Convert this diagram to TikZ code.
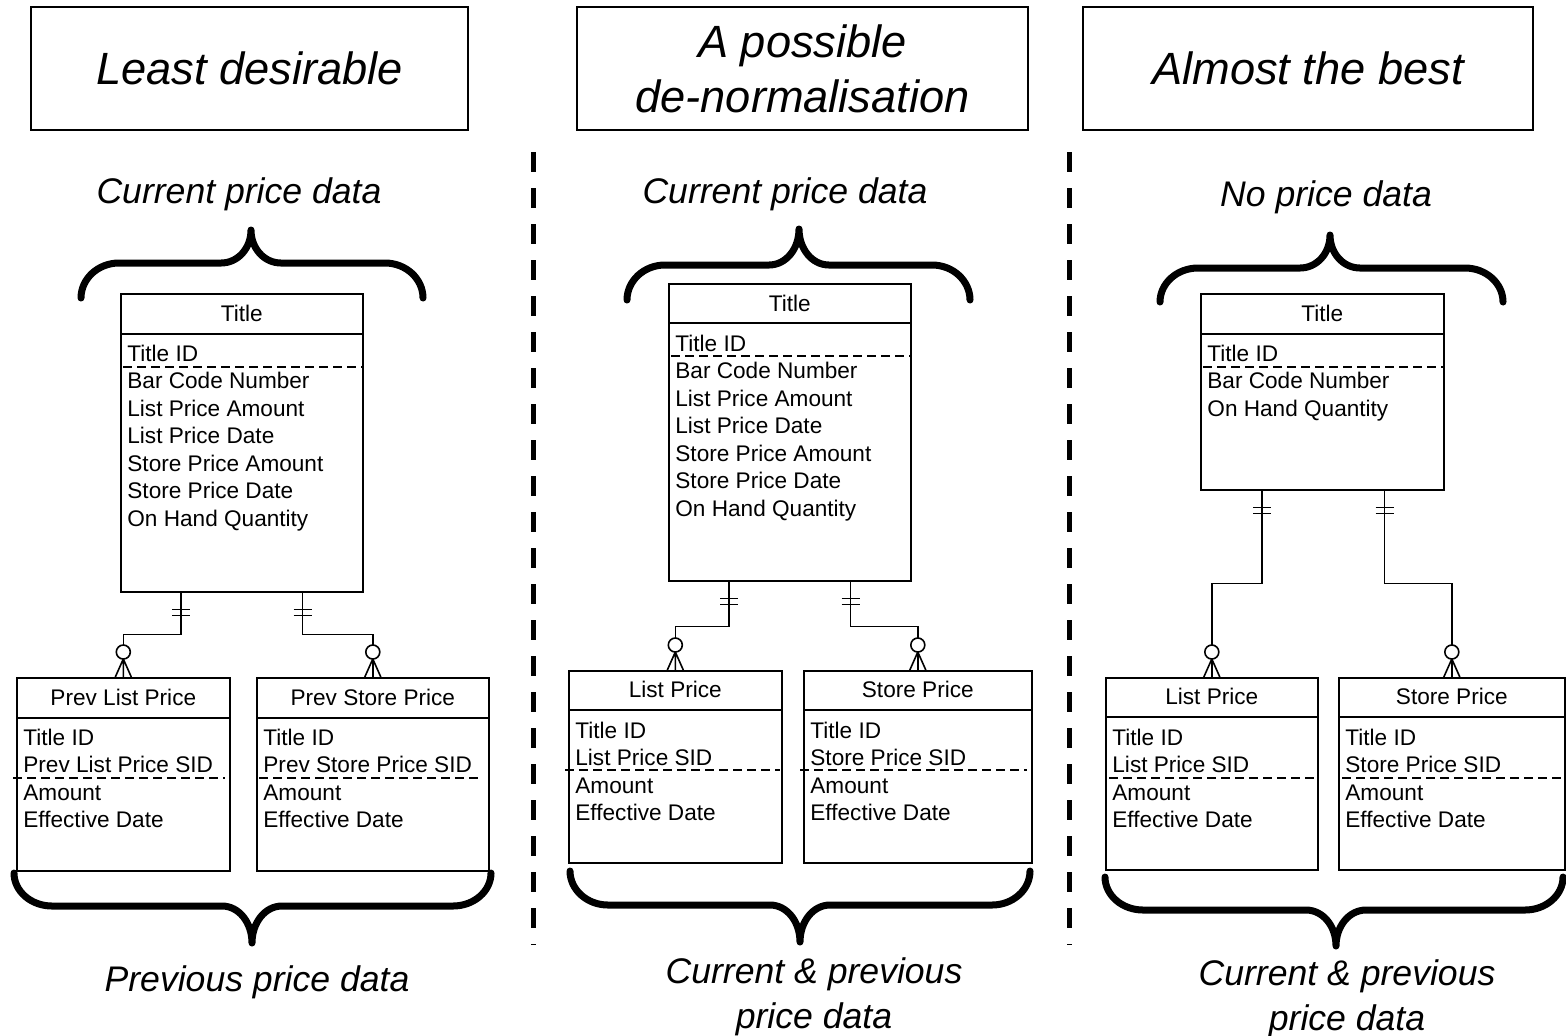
\documentclass[tikz,border=0pt]{standalone}
\usepackage{fontspec}
\setmainfont{Liberation Sans}
\usetikzlibrary{calc}

\tikzset{
  hdrbox/.style={draw, line width=0.7pt, minimum width=#1, minimum height=61.5pt,
    inner sep=0pt, align=center, font=\fontsize{22.6}{27.5}\selectfont\itshape},
  note/.style={inner sep=0pt, align=center, font=\fontsize{17.8}{22.5}\selectfont\itshape},
  ent/.style={draw, line width=0.8pt, anchor=north west, inner sep=0pt},
  entline/.style={line width=0.8pt},
  keyline/.style={line width=0.6pt, dash pattern=on 4.5pt off 2.5pt},
  enthead/.style={anchor=base, inner sep=0pt, font=\fontsize{11.3}{13.75}\selectfont},
  attr/.style={anchor=base west, inner sep=0pt, font=\fontsize{11.3}{13.75}\selectfont},
  rel/.style={line width=0.8pt},
  brace/.style={line width=3.5pt, line cap=round, line join=round},
  colsep/.style={line width=2.5pt, dash pattern=on 10pt off 8pt},
}

\begin{document}
\begin{tikzpicture}[x=0.5pt, y=-0.5pt]
\useasboundingbox (0,0) rectangle (1566,1035);

%% headings
\node[hdrbox=218.5pt] (least)  at (249.5,68.5) {Least desirable};
\node[hdrbox=225.5pt] (denorm) at (802.5,68.5) {A possible\\de-normalisation};
\node[hdrbox=225pt]   (best)   at (1308,68.5)  {Almost the best};

\node[note, anchor=base] (cur1)   at (239,203)  {Current price data};
\node[note, anchor=base] (cur2)   at (785,203)  {Current price data};
\node[note, anchor=base] (noprice) at (1326,206) {No price data};

\node[note, anchor=base]  (prev1) at (257,991) {Previous price data};
\node[note, anchor=north] (both2) at (814,957) {Current \& previous\\price data};
\node[note, anchor=north] (both3) at (1347,959) {Current \& previous\\price data};

%% column separators
\draw[colsep] (533,152) -- (533,945);
\draw[colsep] (1069,152) -- (1069,945);

%% Column 1
\node[ent, minimum width=121pt, minimum height=149pt] (title1) at (120,293) {};
\draw[entline] ($(title1.north west)+(0,41)$) -- ($(title1.north east)+(0,41)$);
\node[enthead] (title1h) at ($(title1.north)+(0,28)$) {Title};
\foreach \a [count=\i] in {Title ID,Bar Code Number,List Price Amount,List Price Date,Store Price Amount,Store Price Date,On Hand Quantity}
  \node[attr] (title1r\i) at ($(title1.north west)+(7,40.5+27.5*\i)$) {\a};
\draw[keyline] ($(title1.north west)+(3,74)$) -- ($(title1.north east)+(0,74)$);

\node[ent, minimum width=106.5pt, minimum height=96.5pt] (plp) at (16,677) {};
\draw[entline] ($(plp.north west)+(0,41)$) -- ($(plp.north east)+(0,41)$);
\node[enthead] (plph) at ($(plp.north)+(0,28)$) {Prev List Price};
\foreach \a [count=\i] in {Title ID,Prev List Price SID,Amount,Effective Date}
  \node[attr] (plpr\i) at ($(plp.north west)+(7,40.5+27.5*\i)$) {\a};
\draw[keyline] ($(plp.north west)+(-3,101)$) -- ($(plp.north east)+(-6,101)$);

\node[ent, minimum width=116pt, minimum height=96.5pt] (psp) at (256,677) {};
\draw[entline] ($(psp.north west)+(0,41)$) -- ($(psp.north east)+(0,41)$);
\node[enthead] (psph) at ($(psp.north)+(0,28)$) {Prev Store Price};
\foreach \a [count=\i] in {Title ID,Prev Store Price SID,Amount,Effective Date}
  \node[attr] (pspr\i) at ($(psp.north west)+(7,40.5+27.5*\i)$) {\a};
\draw[keyline] ($(psp.north west)+(3,101)$) -- ($(psp.north east)+(-12,101)$);

%% Column 2
\node[ent, minimum width=121pt, minimum height=148.5pt] (title2) at (668,283) {};
\draw[entline] ($(title2.north west)+(0,40)$) -- ($(title2.north east)+(0,40)$);
\node[enthead] (title2h) at ($(title2.north)+(0,28)$) {Title};
\foreach \a [count=\i] in {Title ID,Bar Code Number,List Price Amount,List Price Date,Store Price Amount,Store Price Date,On Hand Quantity}
  \node[attr] (title2r\i) at ($(title2.north west)+(7,40.5+27.5*\i)$) {\a};
\draw[keyline] ($(title2.north west)+(3,73)$) -- ($(title2.north east)+(0,73)$);

\node[ent, minimum width=106.5pt, minimum height=96pt] (lp2) at (568,670) {};
\draw[entline] ($(lp2.north west)+(0,40)$) -- ($(lp2.north east)+(0,40)$);
\node[enthead] (lp2h) at ($(lp2.north)+(0,27)$) {List Price};
\foreach \a [count=\i] in {Title ID,List Price SID,Amount,Effective Date}
  \node[attr] (lp2r\i) at ($(lp2.north west)+(7,40.5+27.5*\i)$) {\a};
\draw[keyline] ($(lp2.north west)+(-3,100)$) -- ($(lp2.north east)+(-3,100)$);

\node[ent, minimum width=114pt, minimum height=96pt] (sp2) at (803,670) {};
\draw[entline] ($(sp2.north west)+(0,40)$) -- ($(sp2.north east)+(0,40)$);
\node[enthead] (sp2h) at ($(sp2.north)+(0,27)$) {Store Price};
\foreach \a [count=\i] in {Title ID,Store Price SID,Amount,Effective Date}
  \node[attr] (sp2r\i) at ($(sp2.north west)+(7,40.5+27.5*\i)$) {\a};
\draw[keyline] ($(sp2.north west)+(-3,100)$) -- ($(sp2.north east)+(-6,100)$);

%% Column 3
\node[ent, minimum width=121.5pt, minimum height=98pt] (title3) at (1200,293) {};
\draw[entline] ($(title3.north west)+(0,41)$) -- ($(title3.north east)+(0,41)$);
\node[enthead] (title3h) at ($(title3.north)+(0,28)$) {Title};
\foreach \a [count=\i] in {Title ID,Bar Code Number,On Hand Quantity}
  \node[attr] (title3r\i) at ($(title3.north west)+(7,40.5+27.5*\i)$) {\a};
\draw[keyline] ($(title3.north west)+(3,74)$) -- ($(title3.north east)+(0,74)$);

\node[ent, minimum width=106pt, minimum height=96pt] (lp3) at (1105,677) {};
\draw[entline] ($(lp3.north west)+(0,40)$) -- ($(lp3.north east)+(0,40)$);
\node[enthead] (lp3h) at ($(lp3.north)+(0,27)$) {List Price};
\foreach \a [count=\i] in {Title ID,List Price SID,Amount,Effective Date}
  \node[attr] (lp3r\i) at ($(lp3.north west)+(7,40.5+27.5*\i)$) {\a};
\draw[keyline] ($(lp3.north west)+(4,101)$) -- ($(lp3.north east)+(0,101)$);

\node[ent, minimum width=113pt, minimum height=96pt] (sp3) at (1338,677) {};
\draw[entline] ($(sp3.north west)+(0,40)$) -- ($(sp3.north east)+(0,40)$);
\node[enthead] (sp3h) at ($(sp3.north)+(0,27)$) {Store Price};
\foreach \a [count=\i] in {Title ID,Store Price SID,Amount,Effective Date}
  \node[attr] (sp3r\i) at ($(sp3.north west)+(7,40.5+27.5*\i)$) {\a};
\draw[keyline] ($(sp3.north west)+(4,101)$) -- ($(sp3.north east)+(0,101)$);

%% one-to-many links (one and only one / zero or many)
\foreach \p/\o/\c/\b in {title1.south west/61/plp/42, title1.south east/-61/psp/42,
                         title2.south west/61/lp2/45, title2.south east/-61/sp2/45,
                         title3.south west/62/lp3/93, title3.south east/-60/sp3/93}{
  \draw[rel] ($(\p)+(\o,0)$) coordinate (top) -- ++(0,\b) -| (\c.north);
  \draw[rel] ($(top)+(-9,17)$) -- ++(18,0) ($(top)+(-9,23)$) -- ++(18,0);
  \draw[rel] ($(\c.north)+(-8,0)$) -- ($(\c.north)+(0,-18)$) -- ($(\c.north)+(8,0)$)
             ($(\c.north)+(0,-18)$) -- (\c.north);
  \draw[rel, fill=white] ($(\c.north)+(0,-25)$) circle[radius=3.5pt];
}

%% braces (ends and tip as quarter arcs)
\foreach \l/\r/\t/\ye/\yh/\yt in {81/423/251/298/263/230, 627/970/799/300/265/229,
                                  1160/1503/1330/302/268/235, 14/491/252/873/906/943,
                                  570/1030/800/871/905/942, 1105/1563/1336/877/910/946}
  \draw[brace] (\l,\ye) .. controls (\l,\yh+0.45*\ye-0.45*\yh) and (\l+17,\yh) .. (\l+38,\yh)
    -- (\t-30,\yh) .. controls (\t-13,\yh) and (\t,\yh+0.45*\yt-0.45*\yh) .. (\t,\yt)
    .. controls (\t,\yh+0.45*\yt-0.45*\yh) and (\t+13,\yh) .. (\t+30,\yh)
    -- (\r-38,\yh) .. controls (\r-17,\yh) and (\r,\yh+0.45*\ye-0.45*\yh) .. (\r,\ye);

\end{tikzpicture}
\end{document}
